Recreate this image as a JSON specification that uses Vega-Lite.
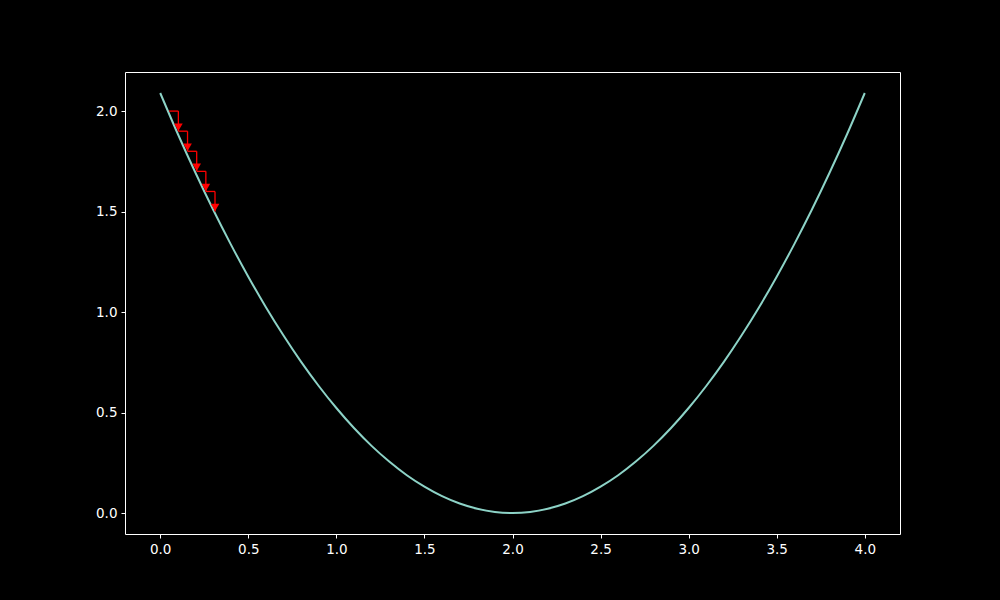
{
  "$schema": "https://vega.github.io/schema/vega-lite/v6.json",
  "width": 775,
  "height": 462,
  "autosize": {"type": "none"},
  "padding": {"left": 125, "top": 72, "right": 100, "bottom": 66},
  "background": "#000000",
  "config": {
    "view": {"stroke": "#ffffff", "strokeWidth": 1},
    "axis": {
      "domain": false,
      "grid": false,
      "ticks": true,
      "tickColor": "#ffffff",
      "tickSize": 4,
      "tickWidth": 1,
      "labelColor": "#ffffff",
      "labelFont": "DejaVu Sans",
      "labelFontSize": 13.5,
      "labelPadding": 4,
      "title": null
    }
  },
  "datasets": {
    "curve": [
      {"x": 0.0, "y": 2.09}, {"x": 0.1, "y": 1.886}, {"x": 0.2, "y": 1.693}, {"x": 0.3, "y": 1.51},
      {"x": 0.4, "y": 1.338}, {"x": 0.5, "y": 1.176}, {"x": 0.6, "y": 1.024}, {"x": 0.7, "y": 0.883},
      {"x": 0.8, "y": 0.752}, {"x": 0.9, "y": 0.632}, {"x": 1.0, "y": 0.5225}, {"x": 1.1, "y": 0.423},
      {"x": 1.2, "y": 0.334}, {"x": 1.3, "y": 0.256}, {"x": 1.4, "y": 0.188}, {"x": 1.5, "y": 0.131},
      {"x": 1.6, "y": 0.0836}, {"x": 1.7, "y": 0.047}, {"x": 1.8, "y": 0.0209}, {"x": 1.9, "y": 0.0052},
      {"x": 2.0, "y": 0.0},
      {"x": 2.1, "y": 0.0052}, {"x": 2.2, "y": 0.0209}, {"x": 2.3, "y": 0.047}, {"x": 2.4, "y": 0.0836},
      {"x": 2.5, "y": 0.131}, {"x": 2.6, "y": 0.188}, {"x": 2.7, "y": 0.256}, {"x": 2.8, "y": 0.334},
      {"x": 2.9, "y": 0.423}, {"x": 3.0, "y": 0.5225}, {"x": 3.1, "y": 0.632}, {"x": 3.2, "y": 0.752},
      {"x": 3.3, "y": 0.883}, {"x": 3.4, "y": 1.024}, {"x": 3.5, "y": 1.176}, {"x": 3.6, "y": 1.338},
      {"x": 3.7, "y": 1.51}, {"x": 3.8, "y": 1.693}, {"x": 3.9, "y": 1.886}, {"x": 4.0, "y": 2.09}
    ],
    "steps": [
      {"x0": 0.05, "x1": 0.103, "y0": 2.0, "y1": 1.9},
      {"x0": 0.103, "x1": 0.155, "y0": 1.9, "y1": 1.8},
      {"x0": 0.155, "x1": 0.207, "y0": 1.8, "y1": 1.7},
      {"x0": 0.207, "x1": 0.259, "y0": 1.7, "y1": 1.6},
      {"x0": 0.259, "x1": 0.311, "y0": 1.6, "y1": 1.5}
    ]
  },
  "layer": [
    {
      "data": {"name": "curve"},
      "mark": {"type": "line", "color": "#8dd3c7", "strokeWidth": 2, "interpolate": "monotone"},
      "encoding": {
        "x": {"field": "x", "type": "quantitative", "scale": {"domain": [-0.2, 4.2], "nice": false, "zero": false},
              "axis": {"values": [0, 0.5, 1, 1.5, 2, 2.5, 3, 3.5, 4], "format": ".1f"}},
        "y": {"field": "y", "type": "quantitative", "scale": {"domain": [-0.1045, 2.1945], "nice": false, "zero": false},
              "axis": {"values": [0, 0.5, 1, 1.5, 2], "format": ".1f"}}
      }
    },
    {
      "data": {"name": "steps"},
      "mark": {"type": "rule", "color": "#ff0000", "strokeWidth": 1.3},
      "encoding": {
        "x": {"field": "x0", "type": "quantitative"},
        "x2": {"field": "x1"},
        "y": {"field": "y0", "type": "quantitative"}
      }
    },
    {
      "data": {"name": "steps"},
      "mark": {"type": "rule", "color": "#ff0000", "strokeWidth": 1.3},
      "encoding": {
        "x": {"field": "x1", "type": "quantitative"},
        "y": {"field": "y0", "type": "quantitative"},
        "y2": {"field": "y1"}
      }
    },
    {
      "data": {"name": "steps"},
      "mark": {"type": "point", "shape": "triangle-down", "filled": true, "color": "#ff0000", "opacity": 1, "size": 75, "yOffset": -4},
      "encoding": {
        "x": {"field": "x1", "type": "quantitative"},
        "y": {"field": "y1", "type": "quantitative"}
      }
    }
  ]
}
